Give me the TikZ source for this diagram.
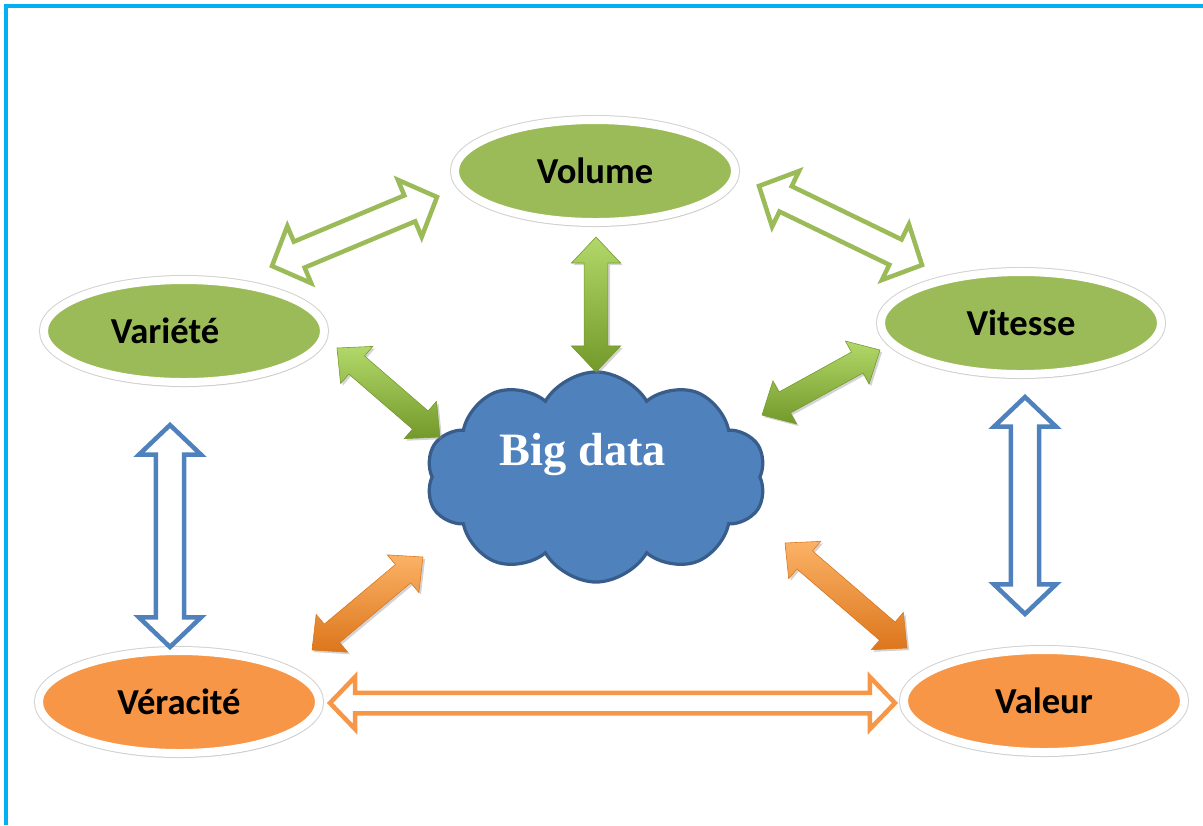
\documentclass[tikz,border=0pt]{standalone}
\usepackage{fontspec}
\setmainfont{Carlito}
\newfontfamily\cloudfont{Liberation Serif}
\usetikzlibrary{calc}
\usetikzlibrary{shapes.geometric, shapes.symbols}
\usetikzlibrary{shadows}
\definecolor{vgreen}{HTML}{9BBB59}
\definecolor{vorange}{HTML}{F79646}
\definecolor{vblue}{HTML}{4F81BD}
\definecolor{vbluedark}{HTML}{385D8A}
\definecolor{vcyan}{HTML}{00B0F0}
\definecolor{sgreenlight}{HTML}{B2D86A}
\definecolor{sgreendark}{HTML}{73992B}
\definecolor{sorangelight}{HTML}{FBB266}
\definecolor{sorangedark}{HTML}{DC761C}
\def\rim{5.7pt}
\tikzset{
vnode/.style={
	ellipse, draw=white, line width=\rim,
	minimum width=7cm, minimum height=2.55cm, inner sep=0pt,
	font=\bfseries\fontsize{26}{30}\selectfont,
	preaction={draw=black!18, line width=\rim+1.4pt},
	drop shadow={opacity=0.22, shadow xshift=0.8pt, shadow yshift=-3pt}
},
twoway/.style args={#1/#2/#3}{
	to path={
		-- ($(\tikztostart)!#3!(\tikztotarget)!#2!90:(\tikztotarget)$)
		-- ($(\tikztostart)!#3!(\tikztotarget)!#1!90:(\tikztotarget)$)
		-- ($(\tikztotarget)!#3!(\tikztostart)!#1!-90:(\tikztostart)$)
		-- ($(\tikztotarget)!#3!(\tikztostart)!#2!-90:(\tikztostart)$)
		-- (\tikztotarget)
		-- ($(\tikztotarget)!#3!(\tikztostart)!#2!90:(\tikztostart)$)
		-- ($(\tikztotarget)!#3!(\tikztostart)!#1!90:(\tikztostart)$)
		-- ($(\tikztostart)!#3!(\tikztotarget)!#1!-90:(\tikztotarget)$)
		-- ($(\tikztostart)!#3!(\tikztotarget)!#2!-90:(\tikztotarget)$)
		-- cycle
	}
},
hollow/.style={draw=#1, fill=white, line width=3.2pt, line join=miter, twoway={10pt/22pt/21pt}},
hollowsmall/.style={draw=#1, fill=white, line width=3.2pt, line join=miter, twoway={7.3pt/18.5pt/17.8pt}},
solid/.style={
	top color=s#1light, bottom color=s#1dark, draw=s#1dark, line width=0.4pt,
	twoway={8.5pt/17.5pt/18.5pt},
	drop shadow={opacity=0.35, shadow xshift=1.5pt, shadow yshift=-1.5pt}
},
}

\begin{document}
\begin{tikzpicture}[x=0.025cm, y=-0.025cm]
\useasboundingbox (0,0) rectangle (1203,825);
\draw[vcyan, line width=2.9pt] (1203,6) -- (6,6) -- (6,825);

%Place the nodes
\node[vnode, fill=vgreen] (vol) at (595,171) {Volume};
\node[vnode, fill=vgreen, label={[font=\bfseries\fontsize{26}{30}\selectfont, xshift=-0.475cm]center:Variété}] (var) at (184,331) {};
\node[vnode, fill=vgreen] (vit) at (1021,323) {Vitesse};
\node[vnode, fill=vorange] (ver) at (179,702) {Véracité};
\node[vnode, fill=vorange] (val) at (1044,701) {Valeur};

\node[cloud, cloud puffs=10, cloud puff arc=120, aspect=1.6,
	minimum width=8.5cm, minimum height=5.25cm, inner sep=0pt,
	fill=vblue, draw=vbluedark, line width=2.3pt,
	label={[text=white, font=\cloudfont\bfseries\fontsize{33}{38}\selectfont, xshift=-0.325cm, yshift=0.55cm]center:Big data}]
	(bd) at (596,477) {};

%Arrow ends
\coordinate (var1) at (272,266);
\coordinate (vol1) at (437,197);
\coordinate (vol2) at (759,186);
\coordinate (vit1) at (922,265);
\coordinate (var2) at (170,425);
\coordinate (ver1) at (170,647);
\coordinate (vit2) at (1025,397);
\coordinate (val1) at (1025,614);
\coordinate (ver2) at (330,703);
\coordinate (val2) at (895,703);

\coordinate (vol3) at (596,237);
\coordinate (bd1) at (596,372);
\coordinate (var3) at (337,348);
\coordinate (bd2) at (440,437);
\coordinate (vit3) at (880,350);
\coordinate (bd3) at (762,415);
\coordinate (ver3) at (312,650);
\coordinate (bd4) at (423,557);
\coordinate (val3) at (907,648);
\coordinate (bd5) at (785,543);

%
\draw[hollow=vgreen] (var1) to (vol1);
\draw[hollow=vgreen] (vol2) to (vit1);
\draw[hollow=vblue] (var2) to (ver1);
\draw[hollow=vblue] (vit2) to (val1);
\draw[hollowsmall=vorange] (ver2) to (val2);

%
\draw[solid=green] (vol3) to (bd1);
\draw[solid=green] (var3) to (bd2);
\draw[solid=green] (vit3) to (bd3);
\draw[solid=orange] (ver3) to (bd4);
\draw[solid=orange] (val3) to (bd5);

\end{tikzpicture}
\end{document}
